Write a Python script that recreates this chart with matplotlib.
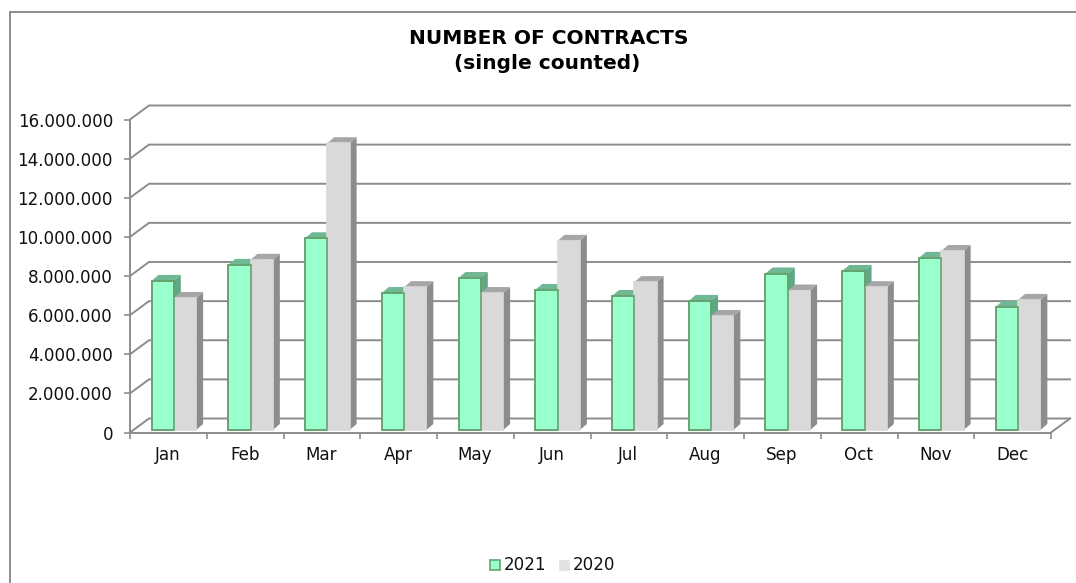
import matplotlib.pyplot as plt
from matplotlib.patches import Polygon, Rectangle

months = ['Jan', 'Feb', 'Mar', 'Apr', 'May', 'Jun', 'Jul', 'Aug', 'Sep', 'Oct', 'Nov', 'Dec']
contracts_2021 = [7620000, 8440000, 9800000, 7000000, 7770000, 7160000,
                  6850000, 6600000, 8000000, 8130000, 8800000, 6300000]
contracts_2020 = [6750000, 8700000, 14660000, 7300000, 7000000, 9670000,
                  7560000, 5830000, 7130000, 7300000, 9150000, 6650000]
y_ticks = [0, 2000000, 4000000, 6000000, 8000000, 10000000, 12000000, 14000000, 16000000]

plt.rcParams['font.family'] = 'DejaVu Sans'

W, H = 1076, 583
fig = plt.figure(figsize=(W / 100, H / 100), dpi=100)

# plot area of the front plane, in pixels
left, right, top, bottom = 130, 1051, 119.5, 432.5
ax = fig.add_axes([left / W, 1 - bottom / H, (right - left) / W, (bottom - top) / H])
ax.set_xlim(0, 12)
ax.set_ylim(0, 16000000)
ax.patch.set_visible(False)

px_x = 12 / (right - left)
px_y = 16000000 / (bottom - top)

GRID = '#8c8c8c'
TEXT = '#111111'
# depth of the chart floor and of each bar, in pixels
wall_dx, wall_dy = 19 * px_x, 14 * px_y
bar_dx, bar_dy = 7 * px_x, 6 * px_y
bar_w = 22.3 * px_x
bar_x0 = 21.5 * px_x
bar_y0 = 2.5 * px_y

# gridlines run up the side wall and then along the back wall
for v in y_ticks:
    ax.plot([0, wall_dx, 12 + wall_dx], [v, v + wall_dy, v + wall_dy], color=GRID, lw=1.4,
            clip_on=False, zorder=1, solid_joinstyle='miter')
ax.plot([12, 12 + wall_dx], [0, wall_dy], color=GRID, lw=1.4, clip_on=False, zorder=1)


def draw_bar(x, v, front, edge, top_c, side_c, z):
    y0 = bar_y0
    y1 = y0 + v
    ax.add_patch(Polygon([(x + bar_w, y0), (x + bar_w + bar_dx, y0 + bar_dy),
                          (x + bar_w + bar_dx, y1 + bar_dy), (x + bar_w, y1)],
                         fc=side_c, ec='none', clip_on=False, zorder=z))
    ax.add_patch(Polygon([(x, y1), (x + bar_dx, y1 + bar_dy),
                          (x + bar_w + bar_dx, y1 + bar_dy), (x + bar_w, y1)],
                         fc=top_c, ec='none', clip_on=False, zorder=z))
    ax.add_patch(Rectangle((x, y0), bar_w, v, fc=front, ec=edge, lw=1.2, clip_on=False, zorder=z + 0.5))


for i in range(12):
    x = i + bar_x0
    draw_bar(x, contracts_2021[i], '#99ffcc', '#66a36e', '#6fb893', '#5fa883', 3 + i * 0.01)
    # the grey box is drawn over the green box's side face
    draw_bar(x + bar_w, contracts_2020[i], '#d9d9d9', '#d9d9d9', '#a6a6a6', '#8c8c8c', 4 + i * 0.01)
    # keep the green front edge on top of the grey box
    ax.add_patch(Rectangle((x, bar_y0), bar_w, contracts_2021[i], fc='none', ec='#66a36e', lw=1.2,
                           clip_on=False, zorder=5 + i * 0.01))

for s in ['top', 'right']:
    ax.spines[s].set_visible(False)
for s in ['left', 'bottom']:
    ax.spines[s].set_color(GRID)
    ax.spines[s].set_linewidth(1.4)

ax.set_xticks(range(13))
ax.set_xticklabels([])
ax.set_yticks(y_ticks)
ax.set_yticklabels([f'{v:,}'.replace(',', '.') for v in y_ticks], fontsize=12.1, color=TEXT)
ax.tick_params(axis='y', length=4, width=1.2, color=GRID, pad=8.2)
ax.tick_params(axis='x', length=4.3, width=1.2, color=GRID, direction='out')

for i, m in enumerate(months):
    ax.annotate(m, (i + 0.5, 0), xytext=(-0.5, -14), textcoords='offset pixels', ha='center', va='top',
                fontsize=12.1, color=TEXT)

fig.text(549 / W, 1 - 38.5 / H, 'NUMBER OF CONTRACTS', ha='center', va='center',
         fontsize=14.5, fontweight='bold', color='black')
fig.text(547.5 / W, 1 - 63.5 / H, '(single counted)', ha='center', va='center',
         fontsize=14.5, fontweight='bold', color='black')

# legend row under the chart
fig.add_artist(Rectangle((490 / W, 1 - 570 / H), 9.5 / W, 10.5 / H, fc='#99ffcc', ec='#66a36e', lw=1.2,
                         transform=fig.transFigure))
fig.text(504 / W, 1 - 565 / H, '2021', ha='left', va='center', fontsize=12.1, color=TEXT)
fig.add_artist(Rectangle((558.5 / W, 1 - 570 / H), 10 / W, 10.5 / H, fc='#e2e2e2', ec='#e2e2e2', lw=0.5,
                         transform=fig.transFigure))
fig.text(573 / W, 1 - 565 / H, '2020', ha='left', va='center', fontsize=12.1, color=TEXT)

# outer chart frame, left and top edges only
fig.add_artist(plt.Line2D([9.5 / W, 9.5 / W], [0, 1 - 12 / H], color=GRID, lw=1.4))
fig.add_artist(plt.Line2D([9.5 / W, 1], [1 - 12 / H, 1 - 12 / H], color=GRID, lw=1.4))

fig.savefig('out.png', dpi=100)
